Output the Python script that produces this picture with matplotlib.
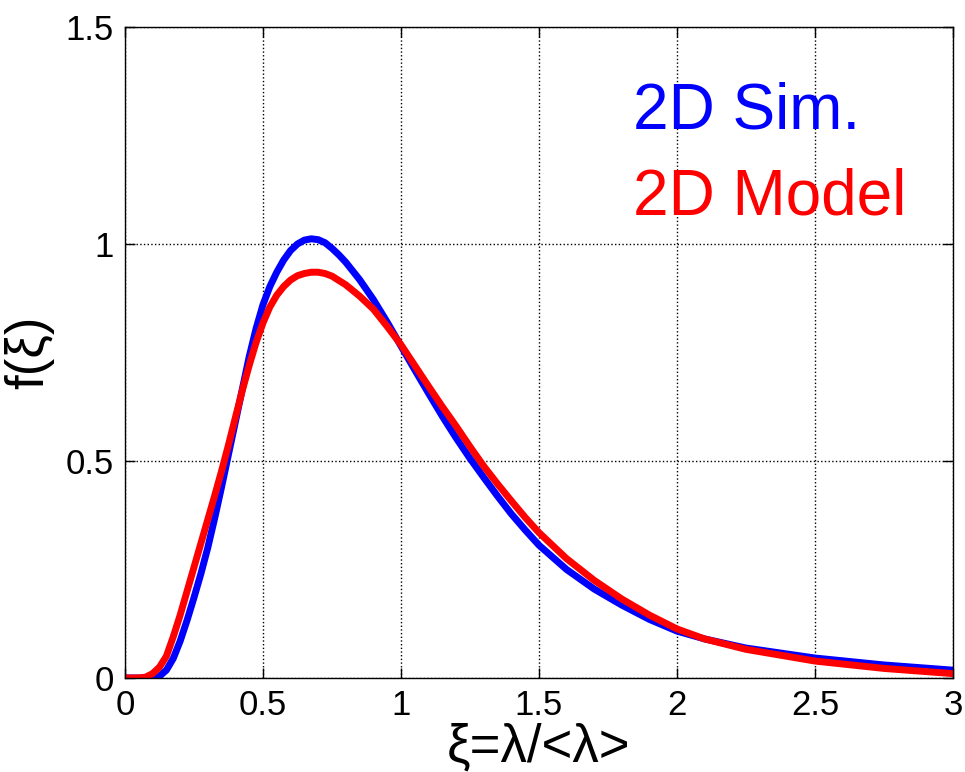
import numpy as np
import matplotlib
matplotlib.use("Agg")
import matplotlib.pyplot as plt

plt.rcParams['font.family'] = ['Liberation Sans', 'DejaVu Sans']

# values
xi_sim = [0, 0.05, 0.1, 0.125, 0.15, 0.175, 0.2, 0.225, 0.25, 0.275, 0.3,
          0.325, 0.35, 0.375, 0.4, 0.425, 0.45, 0.475, 0.5, 0.525, 0.55,
          0.575, 0.6, 0.625, 0.65, 0.675, 0.7, 0.725, 0.75, 0.775, 0.8,
          0.85, 0.9, 0.95, 1.0, 1.05, 1.1, 1.15, 1.2, 1.25, 1.3, 1.35, 1.4,
          1.45, 1.5, 1.6, 1.7, 1.8, 1.9, 2.0, 2.1, 2.25, 2.5, 2.75, 3.0]
f_sim = [0, 0, 0.0, 0.004, 0.018, 0.045, 0.085, 0.133, 0.185, 0.24, 0.30,
         0.368, 0.44, 0.515, 0.59, 0.665, 0.74, 0.805, 0.86, 0.902, 0.935,
         0.963, 0.985, 1.0, 1.009, 1.012, 1.01, 1.003, 0.99, 0.975, 0.958,
         0.918, 0.872, 0.82, 0.765, 0.71, 0.656, 0.603, 0.553, 0.506, 0.462,
         0.419, 0.378, 0.341, 0.306, 0.25, 0.205, 0.168, 0.135, 0.108, 0.09,
         0.069, 0.046, 0.03, 0.018]

xi_model = [0, 0.05, 0.075, 0.1, 0.125, 0.15, 0.175, 0.2, 0.225, 0.25, 0.275,
            0.3, 0.325, 0.35, 0.375, 0.4, 0.425, 0.45, 0.475, 0.5, 0.525,
            0.55, 0.575, 0.6, 0.625, 0.65, 0.675, 0.7, 0.725, 0.75, 0.8,
            0.85, 0.9, 0.95, 1.0, 1.05, 1.1, 1.15, 1.2, 1.25, 1.3, 1.35, 1.4,
            1.45, 1.5, 1.6, 1.7, 1.8, 1.9, 2.0, 2.1, 2.25, 2.5, 2.75, 3.0]
f_model = [0, 0.0, 0.002, 0.01, 0.025, 0.05, 0.095, 0.145, 0.2, 0.255, 0.31,
           0.365, 0.42, 0.477, 0.537, 0.6, 0.662, 0.72, 0.773, 0.818, 0.855,
           0.882, 0.902, 0.917, 0.927, 0.932, 0.935, 0.935, 0.932, 0.926,
           0.906, 0.88, 0.85, 0.81, 0.768, 0.72, 0.672, 0.625, 0.58, 0.533,
           0.488, 0.447, 0.408, 0.37, 0.335, 0.275, 0.225, 0.182, 0.145, 0.113,
           0.09, 0.066, 0.039, 0.022, 0.01]

xticks = [0, 0.5, 1, 1.5, 2, 2.5, 3]
xticklabels = ['0', '0.5', '1', '1.5', '2', '2.5', '3']
yticks = [0, 0.5, 1, 1.5]
yticklabels = ['0', '0.5', '1', '1.5']

fig = plt.figure(figsize=(9.65, 7.72), dpi=100)
ax = fig.add_axes([0.1295, 0.1218, 0.858, 0.8432])

ax.plot(xi_sim, f_sim, color='#0000ff', lw=5, solid_joinstyle='round')
ax.plot(xi_model, f_model, color='#ff0000', lw=5, solid_joinstyle='round')

ax.set_xlim(0, 3)
ax.set_ylim(0, 1.5)
ax.set_xticks(xticks)
ax.set_xticklabels(xticklabels)
ax.set_yticks(yticks)
ax.set_yticklabels(yticklabels)
ax.tick_params(direction='in', length=7, width=1, labelsize=25, pad=8,
               top=True, right=True)
ax.grid(True, linestyle=':', color='black', linewidth=1)
for s in ax.spines.values():
    s.set_linewidth(1)

ax.text(1.84, 1.267, '2D Sim.', color='#0000ff', fontsize=46)
ax.text(1.84, 1.067, '2D Model', color='#ff0000', fontsize=46)

ax.set_xlabel('ξ=λ/<λ>', fontsize=38, labelpad=0)
ax.set_ylabel('f(ξ)', fontsize=38, labelpad=8)

fig.savefig('out.png', dpi=100)
